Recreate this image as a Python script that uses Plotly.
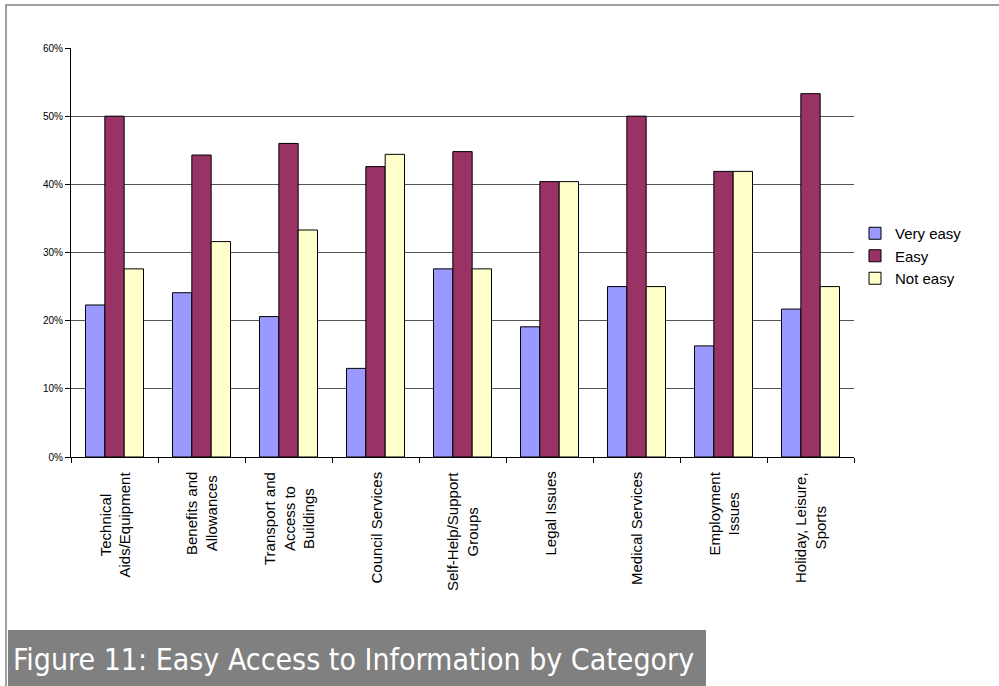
import plotly.graph_objects as go

categories = [
    "Technical<br>Aids/Equipment",
    "Benefits and<br>Allowances",
    "Transport and<br>Access to<br>Buildings",
    "Council Services",
    "Self-Help/Support<br>Groups",
    "Legal Issues",
    "Medical Services",
    "Employment<br>Issues",
    "Holiday, Leisure,<br>Sports",
]
very_easy = [0.223, 0.241, 0.206, 0.130, 0.276, 0.191, 0.250, 0.163, 0.217]
easy = [0.500, 0.443, 0.460, 0.426, 0.448, 0.404, 0.500, 0.419, 0.533]
not_easy = [0.276, 0.316, 0.333, 0.444, 0.276, 0.404, 0.250, 0.419, 0.250]

series = [
    ("Very easy", very_easy, "#9999FF"),
    ("Easy", easy, "#993366"),
    ("Not easy", not_easy, "#FFFFCC"),
]

W, H = 999, 686
L, R, T, B = 71, 854, 48, 457


def px(x):
    return (x - L) / (R - L)


def py(y):
    return (B - y) / (B - T)


fig = go.Figure()
for name, vals, color in series:
    fig.add_trace(go.Bar(
        x=categories, y=vals, name=name,
        marker=dict(color=color, line=dict(color="#000000", width=1)),
    ))

# Category labels, rotated and centred line by line under each group
annotations = []
for c in categories:
    annotations.append(dict(
        x=c, xref="x", y=0, yref="paper", yshift=-13,
        text=c, showarrow=False, textangle=-90,
        xanchor="center", yanchor="top", align="center",
        font=dict(family="Arial, Liberation Sans", size=15, color="#000000"),
    ))

# Caption bar
annotations.append(dict(
    x=px(11), xref="paper", y=py(659), yref="paper",
    text="Figure 11: Easy Access to Information by Category",
    showarrow=False, xanchor="left", yanchor="middle",
    font=dict(family="DejaVu Sans Condensed", size=30, color="#FFFFFF"),
))

shapes = [
    # outer frame (top and left edges)
    dict(type="line", xref="paper", yref="paper", x0=px(6), x1=px(999), y0=py(5), y1=py(5),
         line=dict(color="#A0A0A0", width=2), layer="below"),
    dict(type="line", xref="paper", yref="paper", x0=px(6), x1=px(6), y0=py(4), y1=py(686),
         line=dict(color="#A0A0A0", width=2), layer="below"),
    # caption background
    dict(type="rect", xref="paper", yref="paper", x0=px(8), x1=px(706), y0=py(630), y1=py(686),
         fillcolor="#808080", line=dict(width=0), layer="below"),
]

fig.update_layout(
    width=W, height=H,
    margin=dict(l=L, r=W - R, t=T, b=H - B, pad=0),
    paper_bgcolor="#FFFFFF", plot_bgcolor="#FFFFFF",
    barmode="group", bargap=0.333, bargroupgap=0,
    font=dict(family="Arial, Liberation Sans", color="#000000"),
    showlegend=True,
    legend=dict(
        x=px(855), y=py(217), xanchor="left", yanchor="top",
        font=dict(size=15, color="#000000"),
        itemwidth=30, tracegroupgap=0, bgcolor="rgba(0,0,0,0)",
    ),
    annotations=annotations,
    shapes=shapes,
)
fig.update_xaxes(
    type="category", showticklabels=False, tickson="boundaries",
    ticks="outside", ticklen=5, tickcolor="#000000",
    showline=True, linecolor="#000000", linewidth=1,
    showgrid=False, zeroline=False,
)
fig.update_yaxes(
    range=[0, 0.6], dtick=0.1, tickformat=".0%",
    ticks="outside", ticklen=5, tickcolor="#000000",
    tickfont=dict(size=10, color="#000000"),
    showline=True, linecolor="#000000", linewidth=1,
    showgrid=True, gridcolor="#555555", gridwidth=1,
    zeroline=False,
)

fig.write_html("out.html")
